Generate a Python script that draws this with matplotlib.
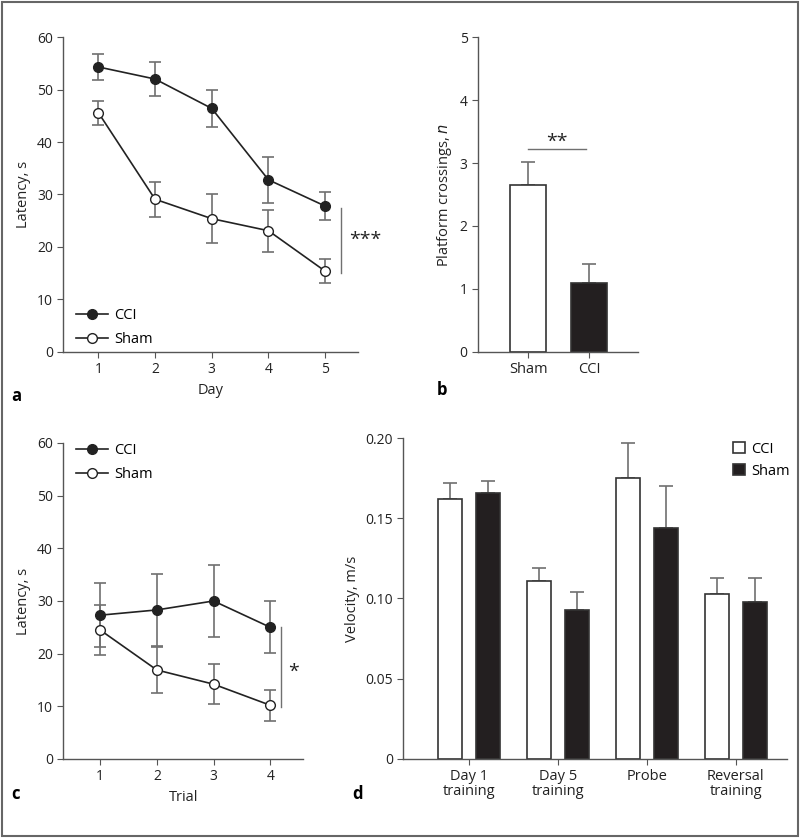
import matplotlib.pyplot as plt
from matplotlib.patches import Rectangle
import numpy as np

plt.rcParams['font.family'] = ['Open Sans', 'DejaVu Sans']
plt.rcParams['font.size'] = 10

# panel a - escape latency over training days
days = [1, 2, 3, 4, 5]
a_cci = [54.3, 52.0, 46.4, 32.8, 27.8]
a_cci_err = [2.4, 3.2, 3.5, 4.4, 2.7]
a_sham = [45.6, 29.1, 25.4, 23.1, 15.4]
a_sham_err = [2.3, 3.3, 4.6, 4.0, 2.3]

# panel b - platform crossings
b_groups = ["Sham", "CCI"]
b_vals = [2.65, 1.1]
b_err = [0.37, 0.3]

# panel c - reversal latency
trials = [1, 2, 3, 4]
c_cci = [27.3, 28.3, 30.0, 25.0]
c_cci_err = [6.1, 6.9, 6.9, 4.9]
c_sham = [24.5, 16.9, 14.2, 10.2]
c_sham_err = [4.8, 4.3, 3.8, 2.9]

# panel d - swim velocity
d_labels = ["Day 1\ntraining", "Day 5\ntraining", "Probe", "Reversal\ntraining"]
d_cci = [0.162, 0.111, 0.175, 0.103]
d_cci_err = [0.010, 0.008, 0.022, 0.010]
d_sham = [0.166, 0.093, 0.144, 0.098]
d_sham_err = [0.007, 0.011, 0.026, 0.015]

spine_c = "#555555"
err_c = "#707070"
line_c = "#222222"
dark = "#231f20"

fig = plt.figure(figsize=(8, 8.38), dpi=100)


def style(ax):
    for s in ["top", "right"]:
        ax.spines[s].set_visible(False)
    for s in ["left", "bottom"]:
        ax.spines[s].set_color(spine_c)
        ax.spines[s].set_linewidth(1.0)
    ax.tick_params(direction="out", length=4, color=spine_c, labelcolor="#222222", labelsize=10)


def line_panel(ax, x, cci, cci_err, sham, sham_err):
    ax.errorbar(x, cci, yerr=cci_err, fmt="none", ecolor=err_c, elinewidth=1.2, capsize=4, capthick=1.2, zorder=2)
    ax.errorbar(x, sham, yerr=sham_err, fmt="none", ecolor=err_c, elinewidth=1.2, capsize=4, capthick=1.2, zorder=2)
    ax.plot(x, cci, "-o", color=line_c, lw=1.2, ms=7, mfc=line_c, mec=line_c, label="CCI", zorder=3)
    ax.plot(x, sham, "-o", color=line_c, lw=1.2, ms=7, mfc="white", mec=line_c, mew=1.0, label="Sham", zorder=3)


# ---- a
ax = fig.add_axes([0.079, 0.58, 0.3685, 0.3758])
line_panel(ax, days, a_cci, a_cci_err, a_sham, a_sham_err)
style(ax)
ax.set_xlim(0.38, 5.58)
ax.set_ylim(0, 60)
ax.set_xticks(days)
ax.set_yticks(range(0, 61, 10))
ax.set_xlabel("Day", fontsize=10.5, color="#222222")
ax.set_ylabel("Latency, s", fontsize=10.5, color="#222222")
ax.plot([5.28, 5.28], [15.0, 27.4], color=err_c, lw=1, clip_on=False)
ax.text(5.42, 21.3, "***", fontsize=14, va="center", ha="left", color="#222222", clip_on=False)
ax.legend(loc="lower left", frameon=False, fontsize=10.5, handlelength=2.2, bbox_to_anchor=(0.0, -0.025),
          labelspacing=0.6, handletextpad=0.4)
fig.text(0.014, 0.527, "a", fontsize=12, fontweight="bold", va="center")

# ---- b
ax = fig.add_axes([0.5975, 0.58, 0.2, 0.3758])
bx = np.arange(len(b_groups))
ax.bar(bx, b_vals, width=0.59, color=["white", dark], edgecolor="#333333", linewidth=1.2, zorder=2)
ax.errorbar(bx, b_vals, yerr=[[0, 0], b_err], fmt="none", ecolor=err_c, elinewidth=1.2, capsize=5, capthick=1.2, zorder=1)
style(ax)
ax.set_xlim(-0.82, 1.8)
ax.set_ylim(0, 5)
ax.set_xticks(bx)
ax.set_xticklabels(b_groups, fontsize=10.5)
ax.set_ylabel("Platform crossings, $\\it{n}$", fontsize=10.5, color="#222222")
ax.plot([0, 0.95], [3.22, 3.22], color=err_c, lw=1)
ax.text(0.47, 3.2, "**", fontsize=14, ha="center", va="bottom", color="#222222")
fig.text(0.546, 0.535, "b", fontsize=12, fontweight="bold", va="center")

# ---- c
ax = fig.add_axes([0.079, 0.0943, 0.3, 0.3771])
line_panel(ax, trials, c_cci, c_cci_err, c_sham, c_sham_err)
style(ax)
ax.set_xlim(0.35, 4.58)
ax.set_ylim(0, 60)
ax.set_xticks(trials)
ax.set_yticks(range(0, 61, 10))
ax.set_xlabel("Trial", fontsize=10.5, color="#222222")
ax.set_ylabel("Latency, s", fontsize=10.5, color="#222222")
ax.plot([4.19, 4.19], [9.9, 25.0], color=err_c, lw=1, clip_on=False)
ax.text(4.31, 16.5, "*", fontsize=14, va="center", ha="left", color="#222222", clip_on=False)
ax.legend(loc="upper left", frameon=False, fontsize=10.5, handlelength=2.2, bbox_to_anchor=(0.0, 1.04),
          labelspacing=0.6, handletextpad=0.4)
fig.text(0.014, 0.052, "c", fontsize=12, fontweight="bold", va="center")

# ---- d
ax = fig.add_axes([0.504, 0.0943, 0.48, 0.383])
dx = np.arange(len(d_labels))
off = 0.215
w = 0.27
ax.bar(dx - off, d_cci, width=w, color="white", edgecolor="#333333", linewidth=1.2, label="CCI", zorder=2)
ax.bar(dx + off, d_sham, width=w, color=dark, edgecolor="#333333", linewidth=1.2, label="Sham", zorder=2)
ax.errorbar(dx - off, d_cci, yerr=[[0] * 4, d_cci_err], fmt="none", ecolor=err_c, elinewidth=1.2, capsize=5, capthick=1.2, zorder=1)
ax.errorbar(dx + off, d_sham, yerr=[[0] * 4, d_sham_err], fmt="none", ecolor=err_c, elinewidth=1.2, capsize=5, capthick=1.2, zorder=1)
style(ax)
ax.set_xlim(-0.74, 3.58)
ax.set_ylim(0, 0.2)
ax.set_xticks(dx)
ax.set_xticklabels(d_labels, fontsize=10.5, linespacing=1.0)
ax.set_yticks([0, 0.05, 0.10, 0.15, 0.20])
ax.set_yticklabels(["0", "0.05", "0.10", "0.15", "0.20"])
ax.set_ylabel("Velocity, m/s", fontsize=10.5, color="#222222")
ax.legend(loc="upper right", frameon=False, fontsize=10.5, handlelength=0.8, handleheight=0.8,
          bbox_to_anchor=(1.04, 1.03), labelspacing=0.5, handletextpad=0.4)
fig.text(0.44, 0.052, "d", fontsize=12, fontweight="bold", va="center")

# frame around figure
fig.patches.append(Rectangle((0.002, 0.002), 0.996, 0.996, transform=fig.transFigure,
                             fill=False, edgecolor="#666666", lw=1.5))

fig.savefig("out.png", dpi=100)
